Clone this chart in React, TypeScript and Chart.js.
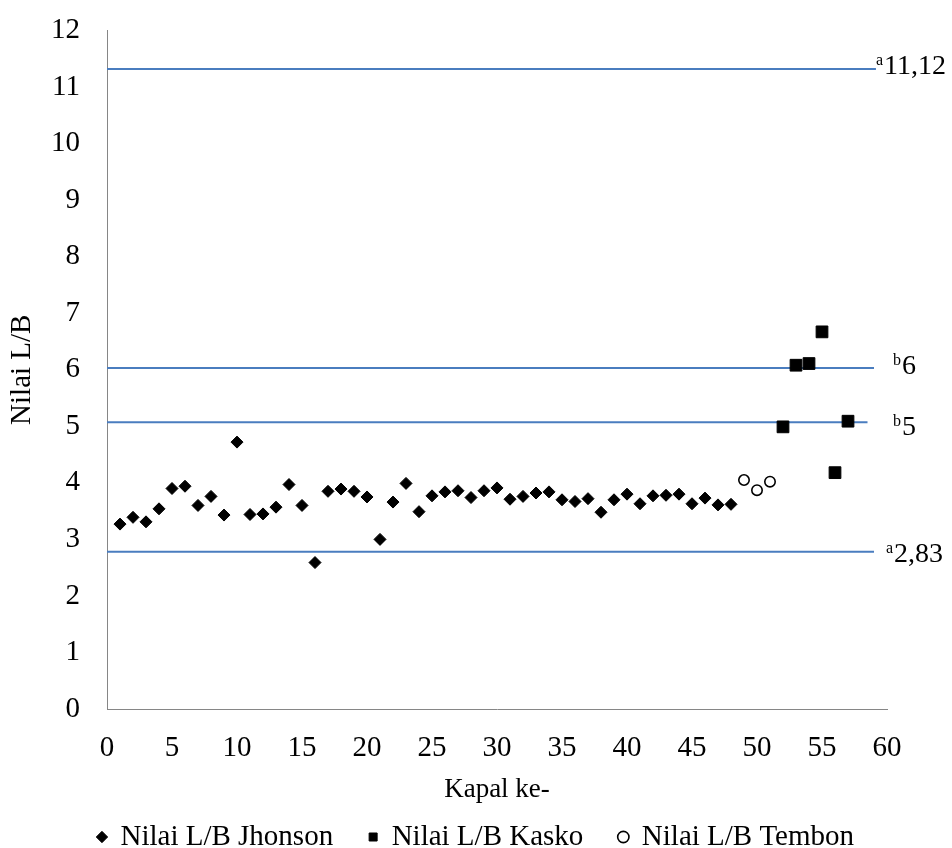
import React, { useEffect, useRef } from 'react';
import { Chart, registerables } from 'chart.js';

Chart.register(...registerables);

const FONT = '"Liberation Serif", "Times New Roman", serif';

// Kapal ke- (ship index) and L/B values
const jhonsonShips = [
  1, 2, 3, 4, 5, 6, 7, 8, 9, 10, 11, 12, 13, 14, 15, 16, 17, 18, 19, 20, 21, 22, 23, 24,
  25, 26, 27, 28, 29, 30, 31, 32, 33, 34, 35, 36, 37, 38, 39, 40, 41, 42, 43, 44, 45, 46, 47, 48,
];
const jhonsonValues = [
  3.27, 3.39, 3.31, 3.54, 3.9, 3.94, 3.6, 3.76, 3.43, 4.72, 3.44, 3.45, 3.57, 3.97, 3.6, 2.59,
  3.85, 3.89, 3.85, 3.75, 3.0, 3.66, 3.99, 3.49, 3.77, 3.84, 3.86, 3.74, 3.86, 3.91, 3.71, 3.76,
  3.82, 3.84, 3.7, 3.67, 3.72, 3.48, 3.7, 3.8, 3.63, 3.77, 3.78, 3.8, 3.63, 3.73, 3.61, 3.62,
];
const kaskoShips = [52, 53, 54, 55, 56, 57];
const kaskoValues = [4.99, 6.08, 6.11, 6.67, 4.18, 5.09];
const tembonShips = [49, 50, 51];
const tembonValues = [4.05, 3.87, 4.02];

// Reference limit lines
const refLineValues = [11.32, 6.03, 5.07, 2.78];
const refLineEnds = [59.15, 59.0, 58.5, 59.0];
const refLabelSup = ['a', 'b', 'b', 'a'];
const refLabelText = ['11,12', '6', '5', '2,83'];

const seriesNames = ['Nilai L/B Jhonson', 'Nilai L/B Kasko', 'Nilai L/B Tembon'];
const xTitle = 'Kapal ke-';
const yTitle = 'Nilai L/B';
const xMin = 0;
const xMax = 60;
const xStep = 5;
const yMin = 0;
const yMax = 12;
const yStep = 1;

const toPoints = (xs: number[], ys: number[]) => xs.map((x, i) => ({ x, y: ys[i] }));

const refLabelPlugin = {
  id: 'refLabels',
  afterDatasetsDraw(chart: any) {
    const { ctx, chartArea, scales } = chart;
    const yScale = scales.y;
    const dx = [-11, 6, 6, -1];
    const dy = [5, 6, 13, 10];
    ctx.save();
    ctx.fillStyle = '#000';
    ctx.textBaseline = 'alphabetic';
    ctx.textAlign = 'left';
    refLineValues.forEach((v, i) => {
      const py = yScale.getPixelForValue(v) + dy[i];
      const px = chartArea.right + dx[i];
      ctx.font = `16px ${FONT}`;
      ctx.fillText(refLabelSup[i], px, py - 9);
      const w = ctx.measureText(refLabelSup[i]).width;
      ctx.font = `28px ${FONT}`;
      ctx.fillText(refLabelText[i], px + w + 1, py);
    });
    ctx.restore();
  },
};

export default function App() {
  const canvasRef = useRef<HTMLCanvasElement | null>(null);

  useEffect(() => {
    if (!canvasRef.current) return;
    const lineDatasets = refLineValues.map((v, i) => ({
      type: 'line' as const,
      label: 'ref' + i,
      data: [
        { x: xMin, y: v },
        { x: refLineEnds[i], y: v },
      ],
      borderColor: '#4A7DBF',
      borderWidth: 2,
      pointRadius: 0,
      showLine: true,
      fill: false,
    }));

    const chart = new Chart(canvasRef.current, {
      type: 'scatter',
      data: {
        datasets: [
          {
            label: seriesNames[0],
            data: toPoints(jhonsonShips, jhonsonValues),
            pointStyle: 'rectRot',
            pointRadius: 6,
            backgroundColor: '#000',
            borderColor: '#000',
            borderWidth: 1,
          },
          {
            label: seriesNames[1],
            data: toPoints(kaskoShips, kaskoValues),
            pointStyle: 'rect',
            pointRadius: 8.3,
            backgroundColor: '#000',
            borderColor: '#000',
            borderWidth: 1,
          },
          {
            label: seriesNames[2],
            data: toPoints(tembonShips, tembonValues),
            pointStyle: 'circle',
            pointRadius: 5.2,
            backgroundColor: '#fff',
            borderColor: '#000',
            borderWidth: 1.6,
          },
          ...lineDatasets,
        ] as any,
      },
      options: {
        animation: false,
        responsive: false,
        devicePixelRatio: 1,
        layout: { padding: { left: 0, right: 0, top: 30.5, bottom: -13.5 } },
        plugins: {
          tooltip: { enabled: false },
          legend: {
            position: 'bottom',
            labels: {
              usePointStyle: true,
              boxHeight: 8,
              boxWidth: 8,
              padding: 36,
              color: '#000',
              font: { family: FONT, size: 29 },
              filter: (item: any) => item.datasetIndex < 3,
            },
          },
        },
        scales: {
          x: {
            type: 'linear',
            min: xMin,
            max: xMax,
            afterFit: (scale: any) => {
              scale.height = 77.5;
            },
            ticks: {
              stepSize: xStep,
              padding: 22,
              color: '#000',
              font: { family: FONT, size: 29 },
            },
            grid: { display: false, drawTicks: false },
            border: { display: true, color: '#868686', width: 1 },
            title: {
              display: true,
              text: xTitle,
              color: '#000',
              font: { family: FONT, size: 27 },
              padding: { top: 0, bottom: -19.7 },
            },
          },
          y: {
            type: 'linear',
            min: yMin,
            max: yMax,
            afterFit: (scale: any) => {
              scale.width = 107;
              scale.paddingTop = 0;
              scale.paddingBottom = 0;
            },
            ticks: {
              stepSize: yStep,
              padding: 27,
              color: '#000',
              font: { family: FONT, size: 29 },
            },
            grid: { display: false, drawTicks: false },
            border: { display: true, color: '#868686', width: 1 },
            title: {
              display: true,
              text: yTitle,
              color: '#000',
              font: { family: FONT, size: 29 },
              padding: { top: 5, bottom: 0 },
            },
          },
          yRightSpace: {
            type: 'linear',
            position: 'right',
            display: true,
            min: yMin,
            max: yMax,
            afterFit: (scale: any) => {
              scale.width = 65;
              scale.paddingTop = 0;
              scale.paddingBottom = 0;
            },
            ticks: { display: false },
            grid: { display: false, drawTicks: false },
            border: { display: false },
          },
        },
      },
      plugins: [refLabelPlugin],
    } as any);

    return () => chart.destroy();
  }, []);

  return (
    <div style={{ position: 'absolute', left: 0, top: 0, width: 952, height: 848, background: '#fff' }}>
      <canvas ref={canvasRef} width={952} height={848} />
    </div>
  );
}
